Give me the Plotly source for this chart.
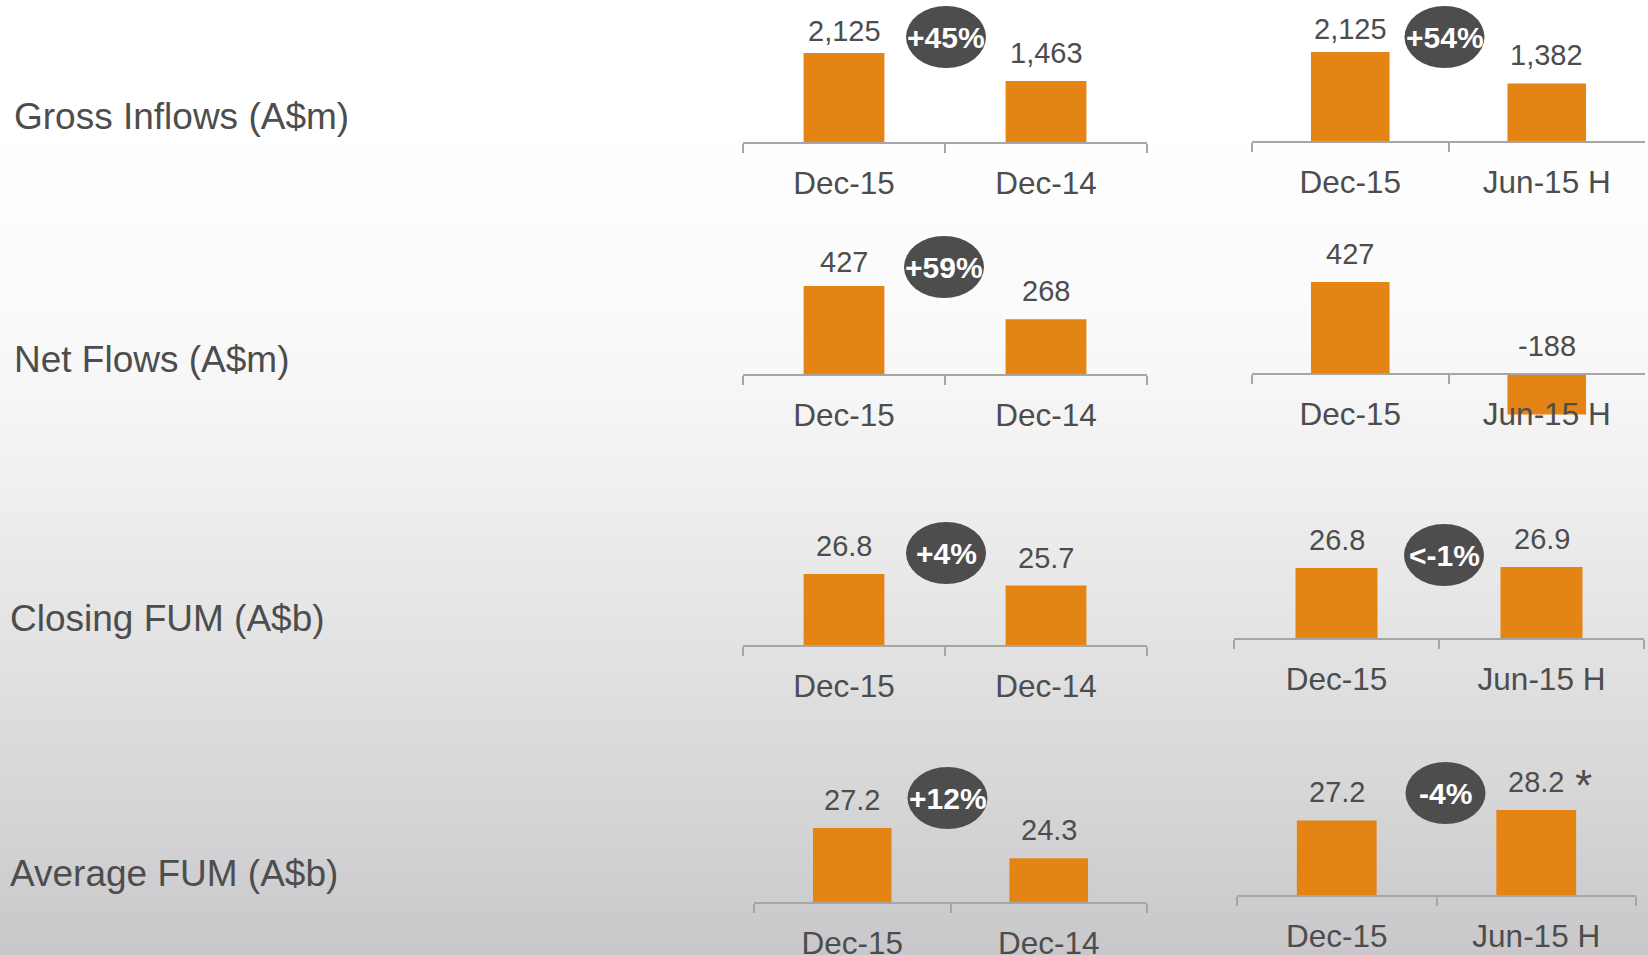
import plotly.graph_objects as go

# ---------------- data ----------------
metrics = ["Gross Inflows (A$m)", "Net Flows (A$m)", "Closing FUM (A$b)", "Average FUM (A$b)"]
cats_yoy = ["Dec-15", "Dec-14"]
cats_hoh = ["Dec-15", "Jun-15 H"]

gross_yoy = [2125, 1463]
gross_hoh = [2125, 1382]
net_yoy = [427, 268]
net_hoh = [427, -188]
closing_yoy = [26.8, 25.7]
closing_hoh = [26.8, 26.9]
average_yoy = [27.2, 24.3]
average_hoh = [27.2, 28.2]

change_badges = ["+45%", "+54%", "+59%", None, "+4%", "<-1%", "+12%", "-4%"]
footnote_hoh_avg = ["", "*"]

# ---------------- layout config (styling / geometry) ----------------
W, H = 1648, 955
ORANGE = "#E38414"
TEXT = "#4d4d4d"
BADGE = "#4d4d4d"
AXIS = "#a6a6a6"
FONT = "Arial, Liberation Sans, sans-serif"

panels = [
    dict(vals=gross_yoy, cats=cats_yoy, fmt="{:,.0f}", base=0, x0=743, x1=1147, axis_y=143, ppu=90 / 2125, bdy=106, bdx=1),
    dict(vals=gross_hoh, cats=cats_hoh, fmt="{:,.0f}", base=0, x0=1252, x1=1645, axis_y=142, ppu=90 / 2125, bdy=105, bdx=-4),
    dict(vals=net_yoy, cats=cats_yoy, fmt="{:,.0f}", base=0, x0=743, x1=1147, axis_y=375, ppu=89 / 427, bdy=108, bdx=-1),
    dict(vals=net_hoh, cats=cats_hoh, fmt="{:,.0f}", base=0, x0=1252, x1=1645, axis_y=374, ppu=92 / 427, bdy=0, bdx=0),
    dict(vals=closing_yoy, cats=cats_yoy, fmt="{:.1f}", base=20, x0=743, x1=1147, axis_y=646, ppu=10.6, bdy=93, bdx=1),
    dict(vals=closing_hoh, cats=cats_hoh, fmt="{:.1f}", base=20, x0=1234, x1=1644, axis_y=639, ppu=10.45, bdy=84, bdx=5),
    dict(vals=average_yoy, cats=cats_yoy, fmt="{:.1f}", base=20, x0=754, x1=1147, axis_y=903, ppu=10.4, bdy=105, bdx=-3),
    dict(vals=average_hoh, cats=cats_hoh, fmt="{:.1f}", base=20, x0=1237, x1=1636, axis_y=896, ppu=10.5, bdy=103, bdx=9),
]
label_yshift = {(0, 0): 4, (1, 0): 5, (2, 0): 6}   # labels PowerPoint placed closer to tall bars
title_pos = [(12, 116), (12, 360), (8, 618), (8, 873)]

fig = go.Figure()
layout = dict(
    width=W, height=H, autosize=False,
    margin=dict(l=0, r=0, t=0, b=0, pad=0),
    paper_bgcolor="white",
    plot_bgcolor="rgba(0,0,0,0)",
    showlegend=False,
    font=dict(family=FONT, color=TEXT),
)
shapes = []
annotations = []

# background vertical gradient (bands)
stops = [(0, 255, 255, 255), (120, 255, 255, 255), (330, 250, 250, 250), (480, 240, 240, 240),
         (640, 227, 227, 228), (800, 214, 214, 215), (955, 200, 200, 203)]


def grad(y):
    for (ya, ra, ga, ba), (yb, rb, gb, bb) in zip(stops[:-1], stops[1:]):
        if ya <= y <= yb:
            t = (y - ya) / (yb - ya)
            return "rgb(%d,%d,%d)" % (round(ra + t * (rb - ra)), round(ga + t * (gb - ga)), round(ba + t * (bb - ba)))
    return "rgb(200,200,203)"


band = 5
for y in range(0, H, band):
    shapes.append(dict(type="rect", xref="paper", yref="paper", x0=0, x1=1,
                       y0=1 - (y + band) / H, y1=1 - y / H, fillcolor=grad(y + band / 2),
                       line=dict(width=0), layer="below"))

for i, p in enumerate(panels):
    n = i + 1
    xa = "xaxis" if n == 1 else "xaxis%d" % n
    ya = "yaxis" if n == 1 else "yaxis%d" % n
    xr = "x" if n == 1 else "x%d" % n
    yr = "y" if n == 1 else "y%d" % n

    below = 60 if min(p["vals"]) < p["base"] else 0
    top_px = max(p["axis_y"] - 150, 0)
    bot_px = p["axis_y"] + below
    rng_top = p["base"] + (p["axis_y"] - top_px) / p["ppu"]
    rng_bot = p["base"] - below / p["ppu"]

    fig.add_trace(go.Bar(x=p["cats"], y=p["vals"], marker=dict(color=ORANGE, line=dict(width=0)),
                         width=0.4, xaxis=xr, yaxis=yr, hoverinfo="skip"))

    layout[xa] = dict(
        domain=[p["x0"] / W, p["x1"] / W],
        anchor="free", position=1 - p["axis_y"] / H,
        type="category", range=[-0.5, 1.5],
        showline=True, linecolor=AXIS, linewidth=2,
        ticks="outside", tickson="boundaries", ticklen=9, tickwidth=2, tickcolor=AXIS,
        tickfont=dict(size=31.5, color=TEXT, family=FONT),
        ticklabelstandoff=12,
        showgrid=False, zeroline=False, fixedrange=True, automargin=False,
    )
    layout[ya] = dict(
        domain=[1 - bot_px / H, 1 - top_px / H],
        range=[rng_bot, rng_top], visible=False, showgrid=False, zeroline=False,
        anchor=xr, fixedrange=True, automargin=False,
    )

    # value labels
    for j, (c, v) in enumerate(zip(p["cats"], p["vals"])):
        annotations.append(dict(x=c, y=max(v, 0), xref=xr, yref=yr, text=p["fmt"].format(v),
                                showarrow=False, yanchor="bottom", xanchor="center",
                                yshift=label_yshift.get((i, j), 10),
                                font=dict(size=29, color=TEXT, family=FONT)))
        if i == 7 and footnote_hoh_avg[j]:
            annotations.append(dict(x=c, y=max(v, 0), xref=xr, yref=yr, text=footnote_hoh_avg[j],
                                    showarrow=False, yanchor="middle", xanchor="center", yshift=24, xshift=47,
                                    font=dict(size=44, color=TEXT, family=FONT)))

    # change badge
    if change_badges[i]:
        shapes.append(dict(type="circle", xref=xr, yref=yr, xsizemode="pixel", ysizemode="pixel",
                           xanchor=0.5, yanchor=p["base"], x0=p["bdx"] - 40, x1=p["bdx"] + 40,
                           y0=p["bdy"] - 31, y1=p["bdy"] + 31,
                           fillcolor=BADGE, line=dict(width=0), layer="above"))
        annotations.append(dict(x=0.5, y=p["base"], xref=xr, yref=yr, text="<b>%s</b>" % change_badges[i],
                                showarrow=False, yanchor="middle", xanchor="center",
                                yshift=p["bdy"], xshift=p["bdx"],
                                font=dict(size=30, color="white", family=FONT)))

# row titles
for t, (px, py) in zip(metrics, title_pos):
    annotations.append(dict(x=px / W, y=1 - py / H, xref="paper", yref="paper", text=t,
                            showarrow=False, xanchor="left", yanchor="middle",
                            font=dict(size=37, color=TEXT, family=FONT)))

layout["shapes"] = shapes
layout["annotations"] = annotations
fig.update_layout(**layout)

post = """
document.documentElement.style.margin='0';
document.body.style.margin='0';
document.body.style.overflow='hidden';
"""
fig.write_html("out.html", config=dict(displayModeBar=False, responsive=False), post_script=post)
